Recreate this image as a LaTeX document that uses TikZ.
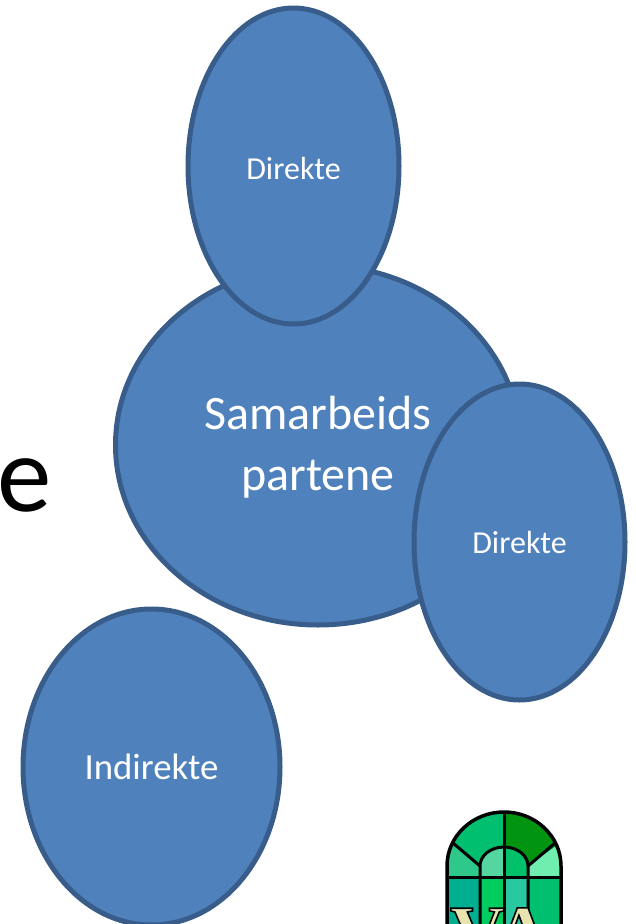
\documentclass[tikz,border=0pt]{standalone}
\usepackage{fontspec}
\setmainfont{Carlito}
\newfontfamily\logofont{Liberation Serif}
\usetikzlibrary{shapes.geometric}
\definecolor{blobfill}{HTML}{4F81BD}
\definecolor{blobline}{HTML}{385D8A}
\definecolor{logocream}{HTML}{E8E4B0}
\tikzset{
 blob/.style={ellipse,draw=blobline,fill=blobfill,line width=5pt,inner sep=0pt,text=white,align=center},
 lead/.style={draw=black,line width=3pt},
}
\newcommand{\arch}{(447,930) -- (447,866) arc[start angle=180,end angle=360,x radius=57,y radius=54] -- (561,930) -- cycle}
\newcommand{\lowered}[2]{\raisebox{-#1}[\height][\depth]{#2}}
\begin{document}
\begin{tikzpicture}[x=1pt,y=-1pt]
\useasboundingbox (0,0) rectangle (636,924);
\node[anchor=base,font=\fontsize{109}{109}\selectfont] (e) at (25,511) {e};
\node[blob,minimum width=405pt,minimum height=360pt,font=\fontsize{48}{58}\selectfont] (main) at (318,445) {\lowered{2pt}{Samarbeids}\\[3pt]\lowered{2pt}{partene}};
\node[blob,minimum width=211pt,minimum height=316pt,font=\fontsize{32}{38}\selectfont] (top) at (293.5,166) {\lowered{3pt}{Direkte}};
\node[blob,minimum width=211pt,minimum height=316pt,font=\fontsize{32}{38}\selectfont] (right) at (519.5,542) {\lowered{1pt}{Direkte}};
\node[blob,minimum width=257pt,minimum height=316pt,font=\fontsize{36.8}{44}\selectfont] (ind) at (151.5,767) {Indirekte};
\begin{scope}
\clip \arch;
\fill[color={rgb,255:red,0;green,191;blue,111}] (440,805) rectangle (504,866);
\fill[color={rgb,255:red,0;green,148;blue,16}] (504,805) rectangle (570,866);
\fill[color={rgb,255:red,46;green,200;blue,138}] (440,836) -- (480,866) -- (480,877) -- (440,877) -- cycle;
\fill[color={rgb,255:red,112;green,238;blue,176}] (570,836) -- (528,866) -- (528,877) -- (570,877) -- cycle;
\fill[color={rgb,255:red,85;green,214;blue,160}] (480,877) -- (480,866) arc[start angle=180,end angle=270,x radius=24,y radius=19] -- (504,877) -- cycle;
\fill[color={rgb,255:red,0;green,192;blue,106}] (528,877) -- (528,866) arc[start angle=360,end angle=270,x radius=24,y radius=19] -- (504,877) -- cycle;
\fill[color={rgb,255:red,0;green,174;blue,144}] (440,877) rectangle (480,930);
\fill[color={rgb,255:red,0;green,204;blue,96}] (480,877) rectangle (504,930);
\fill[color={rgb,255:red,40;green,200;blue,160}] (504,877) rectangle (528,930);
\fill[color={rgb,255:red,0;green,192;blue,112}] (528,877) rectangle (570,930);
\draw[lead] (504,812) -- (504,930);
\draw[lead] (447,877) -- (561,877);
\draw[lead] (480,930) -- (480,866) arc[start angle=180,end angle=360,x radius=24,y radius=19] -- (528,930);
\draw[lead] (453,843) -- (480,866);
\draw[lead] (555,843) -- (528,866);
\end{scope}
\draw[lead,line width=3.5pt] \arch;
\node[anchor=base,inner sep=0pt,text=logocream,font=\logofont\bfseries\fontsize{76}{76}\selectfont] (logo) at (500,958) {\special{pdf:code 0 0 0 RG 2 Tr 1.6 w}VA\special{pdf:code 0 Tr}};
\end{tikzpicture}
\end{document}
